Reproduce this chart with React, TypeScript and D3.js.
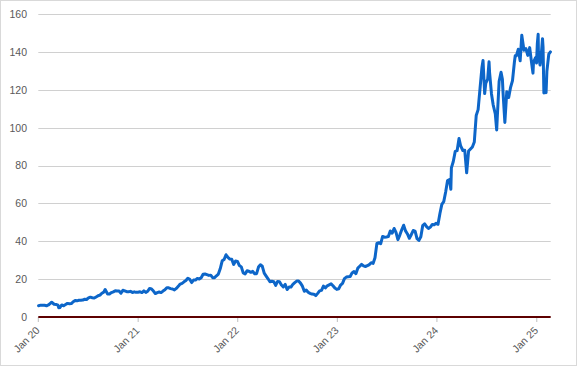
import React from "react";
import * as d3 from "d3";

const dates: string[] = [
  "2020-01-02","2020-01-10","2020-01-17","2020-01-24","2020-01-31","2020-02-07","2020-02-14","2020-02-19","2020-02-28","2020-03-06","2020-03-13","2020-03-16","2020-03-20","2020-03-27","2020-04-03","2020-04-10","2020-04-17","2020-04-24","2020-05-01","2020-05-08","2020-05-15","2020-05-22","2020-05-29","2020-06-05","2020-06-12","2020-06-19","2020-06-26","2020-07-03","2020-07-10","2020-07-17","2020-07-24","2020-07-31","2020-08-07","2020-08-14","2020-08-21","2020-08-28","2020-09-02","2020-09-11","2020-09-18","2020-09-25","2020-10-02","2020-10-09","2020-10-16","2020-10-23","2020-10-30","2020-11-06","2020-11-13","2020-11-20","2020-11-27","2020-12-04","2020-12-11","2020-12-18","2020-12-24","2020-12-31",
  "2021-01-08","2021-01-15","2021-01-22","2021-01-29","2021-02-05","2021-02-12","2021-02-19","2021-02-26","2021-03-05","2021-03-12","2021-03-19","2021-03-26","2021-04-02","2021-04-09","2021-04-16","2021-04-23","2021-04-30","2021-05-07","2021-05-14","2021-05-21","2021-05-28","2021-06-04","2021-06-11","2021-06-18","2021-06-25","2021-07-02","2021-07-09","2021-07-16","2021-07-23","2021-07-30","2021-08-06","2021-08-13","2021-08-20","2021-08-27","2021-09-03","2021-09-10","2021-09-17","2021-09-24","2021-10-01","2021-10-08","2021-10-15","2021-10-22","2021-10-29","2021-11-05","2021-11-12","2021-11-19","2021-11-26","2021-12-03","2021-12-10","2021-12-17","2021-12-24","2021-12-31",
  "2022-01-07","2022-01-14","2022-01-21","2022-01-28","2022-02-04","2022-02-11","2022-02-18","2022-02-25","2022-03-04","2022-03-11","2022-03-18","2022-03-25","2022-04-01","2022-04-08","2022-04-14","2022-04-22","2022-04-29","2022-05-06","2022-05-13","2022-05-20","2022-05-27","2022-06-03","2022-06-10","2022-06-17","2022-06-24","2022-07-01","2022-07-08","2022-07-15","2022-07-22","2022-07-29","2022-08-05","2022-08-12","2022-08-19","2022-08-26","2022-09-02","2022-09-09","2022-09-16","2022-09-23","2022-09-30","2022-10-07","2022-10-14","2022-10-21","2022-10-28","2022-11-04","2022-11-11","2022-11-18","2022-11-25","2022-12-02","2022-12-09","2022-12-16","2022-12-23","2022-12-30",
  "2023-01-06","2023-01-13","2023-01-20","2023-01-27","2023-02-03","2023-02-10","2023-02-17","2023-02-24","2023-03-03","2023-03-10","2023-03-17","2023-03-24","2023-03-31","2023-04-07","2023-04-14","2023-04-21","2023-04-28","2023-05-05","2023-05-12","2023-05-19","2023-05-26","2023-06-02","2023-06-09","2023-06-16","2023-06-23","2023-06-30","2023-07-07","2023-07-14","2023-07-21","2023-07-28","2023-08-04","2023-08-11","2023-08-18","2023-08-25","2023-09-01","2023-09-08","2023-09-15","2023-09-22","2023-09-29","2023-10-06","2023-10-13","2023-10-20","2023-10-27","2023-11-03","2023-11-10","2023-11-17","2023-11-24","2023-12-01","2023-12-08","2023-12-15","2023-12-22","2023-12-29",
  "2024-01-05","2024-01-12","2024-01-19","2024-01-26","2024-02-02","2024-02-09","2024-02-16","2024-02-21","2024-02-23","2024-03-01","2024-03-08","2024-03-15","2024-03-22","2024-03-28","2024-04-05","2024-04-12","2024-04-19","2024-04-26","2024-05-03","2024-05-10","2024-05-17","2024-05-24","2024-05-31","2024-06-07","2024-06-14","2024-06-18","2024-06-21","2024-06-24","2024-06-28","2024-07-05","2024-07-10","2024-07-12","2024-07-19","2024-07-25","2024-08-02","2024-08-07","2024-08-09","2024-08-16","2024-08-23","2024-08-28","2024-08-30","2024-09-06","2024-09-13","2024-09-20","2024-09-27","2024-10-04","2024-10-11","2024-10-14","2024-10-18","2024-10-25","2024-11-01","2024-11-07","2024-11-15","2024-11-22","2024-11-29","2024-12-06","2024-12-13","2024-12-18","2024-12-20","2024-12-27","2024-12-31",
  "2025-01-03","2025-01-06","2025-01-07","2025-01-10","2025-01-13","2025-01-17","2025-01-22","2025-01-24","2025-01-27","2025-01-31","2025-02-04","2025-02-07","2025-02-14","2025-02-20"
];

const prices: number[] = [
  5.99,6.27,6.22,6.17,5.91,6.35,7.18,7.8,6.74,6.66,6.28,4.9,5.01,6.36,5.95,6.57,7.2,7.0,7.1,8.07,8.74,8.55,8.86,8.83,8.96,9.38,9.26,10.08,10.5,10.21,10.01,10.61,11.22,11.56,12.58,13.14,14.5,12.15,12.21,12.89,13.28,13.86,13.75,13.72,12.54,14.11,13.8,13.35,13.35,13.55,12.97,13.31,13.04,13.05,
  13.3,12.9,13.8,13.0,13.6,15.1,14.8,13.7,12.4,12.9,13.2,12.9,13.7,14.4,15.5,15.4,15.0,14.8,14.3,15.1,16.2,17.4,17.8,18.6,19.3,20.5,19.9,18.2,19.5,19.5,20.4,20.1,20.8,22.6,22.7,22.4,22.0,22.1,20.8,20.8,21.8,22.7,25.6,29.7,30.4,32.9,31.5,30.6,30.5,27.8,29.6,29.4,
  27.2,26.5,23.3,22.8,24.4,24.2,23.6,24.1,22.9,22.9,26.4,27.6,26.8,23.2,21.9,20.2,18.6,18.9,18.7,16.7,18.8,18.7,16.9,15.9,17.2,14.5,15.8,15.8,17.3,18.2,19.0,19.0,17.9,16.3,13.6,14.3,13.1,12.5,12.1,12.0,11.3,12.5,13.8,14.1,16.3,15.4,16.5,17.0,17.5,16.5,15.3,14.6,
  14.9,16.9,17.8,20.3,21.1,21.3,21.4,23.3,24.0,22.9,25.8,26.8,27.8,27.0,26.7,27.1,27.7,28.7,28.3,31.3,38.9,39.3,38.8,42.6,42.2,42.3,42.5,45.5,44.3,46.8,44.7,40.9,43.3,46.1,48.5,45.5,43.9,41.6,43.5,45.7,45.4,41.4,40.5,42.4,48.3,49.3,47.8,46.8,47.5,48.9,48.8,49.5,
  49.0,54.7,59.5,61.0,66.1,72.1,72.6,67.5,78.8,82.2,87.5,87.9,94.3,90.4,88.0,88.1,76.2,87.7,88.8,89.9,92.5,106.5,109.6,120.9,131.9,135.6,126.6,118.1,123.5,125.8,134.9,129.2,117.9,112.3,107.3,98.9,104.8,124.6,129.4,125.6,119.4,102.8,119.1,116.0,121.4,124.9,134.8,138.1,138.0,141.5,135.4,148.9,141.0,141.9,138.3,142.4,134.3,128.9,134.7,137.0,134.3,
  144.5,149.4,140.1,135.9,133.2,137.7,147.1,142.6,118.4,120.1,118.6,129.8,138.9,140.1
];

const yTicks: number[] = [0, 20, 40, 60, 80, 100, 120, 140, 160];
const xTickDates: string[] = ["2020-01-01","2021-01-01","2022-01-01","2023-01-01","2024-01-01","2025-01-01"];
const xTickLabels: string[] = ["Jan 20","Jan 21","Jan 22","Jan 23","Jan 24","Jan 25"];

export default function App() {
  const W = 577, H = 366;
  const parse = d3.utcParse("%Y-%m-%d");
  const x = d3.scaleUtc()
    .domain([parse("2020-01-01")!, parse("2025-02-21")!])
    .range([38.3, 550.7]);
  const y = d3.scaleLinear().domain([0, 160]).range([317, 14.3]);
  const pts: [Date, number][] = dates.map((d, i) => [parse(d)!, prices[i]]);
  const line = d3.line<[Date, number]>().x(d => x(d[0])).y(d => y(d[1]));
  const font = "'Liberation Sans', Arial, sans-serif";
  return (
    <svg width={W} height={H} style={{ position: "fixed", left: 0, top: 0, background: "#fff" }}>
      <rect x={0.5} y={0.5} width={W - 1} height={H - 1} fill="#fff" stroke="#d9d9d9" />
      {yTicks.filter(t => t > 0).map(t => (
        <line key={t} x1={38.3} x2={550.7} y1={Math.round(y(t)) + 0.5} y2={Math.round(y(t)) + 0.5} stroke="#d0d0d0" strokeWidth={1} />
      ))}
      {yTicks.map(t => (
        <text key={"l" + t} x={27} y={y(t) + 3.8} textAnchor="end" fontFamily={font} fontSize={10.5} fill="#595959">{t}</text>
      ))}
      {xTickDates.map((d, i) => {
        const xx = x(parse(d)!);
        return (
          <g key={d}>
            <line x1={xx} x2={xx} y1={317} y2={322} stroke="#bfbfbf" />
            <text transform={`translate(${xx + 2},${331}) rotate(-45)`} textAnchor="end" fontFamily={font} fontSize={10.5} fill="#595959">{xTickLabels[i]}</text>
          </g>
        );
      })}
      <path d={line(pts)!} fill="none" stroke="#0d66c9" strokeWidth={3} strokeLinejoin="round" strokeLinecap="round" />
      <line x1={38.3} x2={550.7} y1={317} y2={317} stroke="#5e0000" strokeWidth={2} />
    </svg>
  );
}
